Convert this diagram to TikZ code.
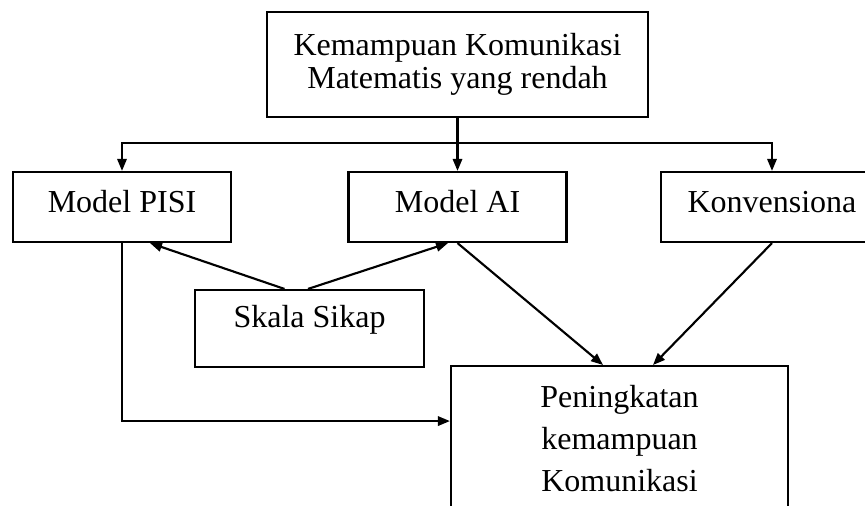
\documentclass[tikz,border=0pt]{standalone}
\usepackage{fontspec}
\setmainfont{Liberation Serif}
\usetikzlibrary{arrows.meta,calc}

\begin{document}
\begin{tikzpicture}[x=0.75pt,y=-0.75pt,
        kotak/.style={draw,line width=1.6pt,inner sep=0pt,align=center,font=\fontsize{24}{24.75}\selectfont},
        model/.style={kotak,minimum width=163.5pt,minimum height=52.5pt,text height=16.5pt,text depth=7.5pt},
        panah/.style={line width=1.6pt,-{Triangle[length=9pt,width=7pt]}}]
        \useasboundingbox (0,0) rectangle (865,506);
        \clip (0,0) rectangle (865,506);
        \fill[white] (0,0) rectangle (865,506);

        \node[kotak,minimum width=285.75pt,minimum height=78.75pt] (masalah) at (457.5,64.5) {Kemampuan Komunikasi\\Matematis yang rendah};

        \node[model] (pisi) at (122,207) {Model PISI};
        \node[model] (ai) at (457.5,207) {Model AI};
        \node[model,minimum width=166.5pt] (konv) at (772,207) {Konvensiona};

        \node[kotak,minimum width=171.75pt,minimum height=57.75pt,text height=16.5pt,text depth=17.25pt] (sikap) at (309.5,328.5) {Skala Sikap};
        \node[kotak,anchor=north,minimum width=252.75pt,minimum height=108.75pt,font=\fontsize{24}{31.3}\selectfont] (hasil) at (619.5,365) {Peningkatan\\kemampuan\\Komunikasi};

        \coordinate (cabang) at (457.5,143);
        \draw[panah] (masalah.south) -- (ai.north);
        \draw[panah] (cabang) -| (pisi.north);
        \draw[panah] (cabang) -| (konv.north);

        \draw[panah] ($(sikap.north)+(-25,0)$) -- ($(pisi.south)+(28,0)$);
        \draw[panah] ($(sikap.north)+(-1.5,0)$) -- ($(ai.south)+(-9.5,0)$);

        \draw[panah] (ai.south) -- ($(hasil.north)+(-16.5,0)$);
        \draw[panah] (konv.south) -- ($(hasil.north)+(33.5,0)$);
        \draw[panah] (pisi.south) |- ($(hasil.west)+(0,-17.5)$);
\end{tikzpicture}
\end{document}
